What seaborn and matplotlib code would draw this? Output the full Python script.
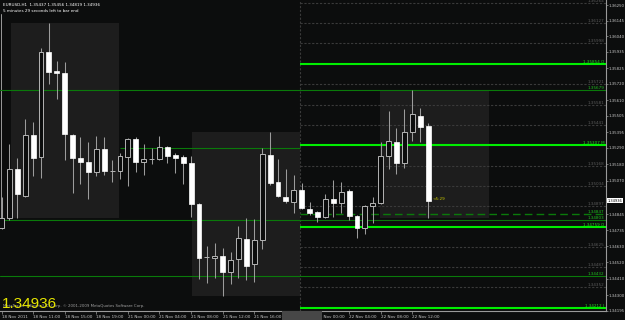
import numpy as np
import pandas as pd
import matplotlib
matplotlib.use("Agg")
import matplotlib.pyplot as plt
from matplotlib.patches import Rectangle
import seaborn as sns

# ---------------- data ----------------
header_text = "EURUSD,H1  1.35437 1.35456 1.34819 1.34936"
timer_text = "5 minutes 29 seconds left to bar end"
bid_price = 1.34936

opens = [1.34752, 1.34819, 1.35148, 1.34967, 1.35377, 1.35229, 1.35935, 1.35807, 1.35793, 1.35377,
         1.35222, 1.35195, 1.35128, 1.35283, 1.35135, 1.35135, 1.35229, 1.35350, 1.35195, 1.35216,
         1.35216, 1.35296, 1.35242, 1.35229, 1.35189, 1.34913, 1.34557, 1.34550, 1.34564, 1.34456,
         1.34544, 1.34678, 1.34510, 1.34671, 1.35242, 1.35061, 1.34960, 1.34927, 1.35007, 1.34880,
         1.34860, 1.34826, 1.34947, 1.34920, 1.35000, 1.34832, 1.34752, 1.34900, 1.34920, 1.35236,
         1.35330, 1.35189, 1.35397, 1.35504, 1.35437]
highs = [1.34960, 1.35316, 1.35222, 1.35484, 1.35464, 1.35961, 1.36129, 1.35874, 1.35867, 1.35384,
         1.35363, 1.35330, 1.35370, 1.35363, 1.35209, 1.35256, 1.35357, 1.35363, 1.35316, 1.35289,
         1.35370, 1.35300, 1.35256, 1.35242, 1.35236, 1.34918, 1.34631, 1.34651, 1.34617, 1.34591,
         1.34765, 1.34819, 1.34812, 1.35289, 1.35397, 1.35216, 1.35148, 1.35108, 1.35054, 1.34927,
         1.34865, 1.34980, 1.35074, 1.35061, 1.35014, 1.34839, 1.34905, 1.34960, 1.35330, 1.35538,
         1.35424, 1.35552, 1.35679, 1.35558, 1.35456]
lows = [1.34745, 1.34806, 1.34819, 1.34960, 1.35101, 1.35088, 1.35720, 1.35619, 1.35209, 1.34987,
        1.35047, 1.34947, 1.35101, 1.35108, 1.35061, 1.35081, 1.35034, 1.35128, 1.35108, 1.35182,
        1.35209, 1.35189, 1.35121, 1.35047, 1.34826, 1.34409, 1.34382, 1.34416, 1.34295, 1.34376,
        1.34416, 1.34402, 1.34389, 1.34611, 1.35041, 1.34960, 1.34920, 1.34853, 1.34880, 1.34839,
        1.34792, 1.34819, 1.34826, 1.34853, 1.34806, 1.34685, 1.34712, 1.34785, 1.34913, 1.35148,
        1.35115, 1.35155, 1.35336, 1.35330, 1.34819]
closes = [1.34819, 1.35148, 1.34980, 1.35377, 1.35222, 1.35935, 1.35800, 1.35793, 1.35384, 1.35222,
          1.35195, 1.35128, 1.35283, 1.35135, 1.35135, 1.35236, 1.35350, 1.35195, 1.35216, 1.35216,
          1.35296, 1.35236, 1.35222, 1.35189, 1.34913, 1.34550, 1.34557, 1.34564, 1.34456, 1.34537,
          1.34685, 1.34496, 1.34671, 1.35249, 1.35054, 1.34967, 1.34933, 1.35007, 1.34886, 1.34853,
          1.34826, 1.34947, 1.34920, 1.34994, 1.34832, 1.34752, 1.34900, 1.34920, 1.35236, 1.35336,
          1.35189, 1.35397, 1.35518, 1.35431, 1.34936]

time_labels = ["18 Nov 2011", "18 Nov 11:00", "18 Nov 15:00", "18 Nov 19:00", "21 Nov 00:00",
               "21 Nov 04:00", "21 Nov 08:00", "21 Nov 12:00", "21 Nov 16:00", "21 Nov 20:00",
               "22 Nov 00:00", "22 Nov 04:00", "22 Nov 08:00", "22 Nov 12:00"]
time_label_bars = [0, 4, 8, 12, 16, 20, 24, 28, 32, 36, 40, 44, 48, 52]

price_ticks = [1.36250, 1.36145, 1.36040, 1.35935, 1.35825, 1.35720, 1.35610, 1.35505, 1.35395,
               1.35290, 1.35180, 1.35070, 1.34845, 1.34735, 1.34630, 1.34520, 1.34410, 1.34300,
               1.34195]

# session high/low boxes
session_start = [1.2, 24.1, 47.9]
session_end = [14.9, 37.8, 61.7]
session_high = [1.36129, 1.35397, 1.35679]
session_low = [1.34819, 1.34295, 1.34819]

# levels drawn from the day separator to the right
bright_levels = [1.35854, 1.35307, 1.34759, 1.34212]
bright_labels = ["1.35854 O", "1.35307 M", "1.34759 O", "1.34212 I"]
grey_levels = [1.36264, 1.36127, 1.35998, 1.35721, 1.35581, 1.35441, 1.35168, 1.35034,
               1.34897, 1.34625, 1.34487, 1.34352]
dashed_level = 1.34847
# full width dark green lines
dark_levels = [1.35679, 1.34803, 1.34432]
partial_level = 1.35291
day_separator = 37.8

# ---------------- style ----------------
BG = "#0c0d0d"
sns.set_theme(style="dark", rc={"axes.facecolor": BG, "figure.facecolor": BG,
                                "axes.grid": False, "axes.edgecolor": "#9a9a9a",
                                "xtick.color": "#9a9a9a", "ytick.color": "#9a9a9a",
                                "text.color": "#d0d0d0"})
plt.rcParams["font.family"] = ["DejaVu Sans"]

W, H = 625, 320
fig = plt.figure(figsize=(W / 100, H / 100), dpi=100)
ax = fig.add_axes([0, 9 / H, 606 / W, 311 / H])

df = pd.DataFrame({"bar": np.arange(len(opens)), "open": opens, "high": highs,
                   "low": lows, "close": closes})
df["body_lo"] = df[["open", "close"]].min(axis=1)
df["body"] = (df["open"] - df["close"]).abs()
bull = df[df["close"] >= df["open"]].reset_index(drop=True)
bear = df[df["close"] < df["open"]].reset_index(drop=True)

xmin, xmax = -0.19, 76.52

# session boxes
for x0, x1, hi, lo in zip(session_start, session_end, session_high, session_low):
    ax.add_patch(Rectangle((x0, lo), x1 - x0, hi - lo, facecolor="#1d1d1d",
                           edgecolor="none", zorder=0.5))

# grey level lines (right part)
for lv in grey_levels:
    ax.hlines(lv, day_separator, xmax, colors="#3a3a3a", linewidth=0.8,
              linestyles=(0, (2, 1.5)), zorder=1)
    ax.text(0.997, lv, f"{lv:.5f}", transform=ax.get_yaxis_transform(), ha="right",
            va="bottom", fontsize=3, color="#5a5a5a", zorder=3)

ax.axvline(day_separator, color="#3a3a3a", linewidth=0.8, linestyle=(0, (2, 1.5)), zorder=1)
ax.axvline(-0.06, ymin=0.27, ymax=0.955, color="#9a9a9a", linewidth=0.7, zorder=1)

for lv in dark_levels:
    ax.axhline(lv, color="#0a7a0a", linewidth=0.8, zorder=1.2)
    ax.text(0.997, lv, f"{lv:.5f}", transform=ax.get_yaxis_transform(), ha="right",
            va="bottom", fontsize=3, color="#1fbf1f", zorder=3)
ax.hlines(partial_level, 15.0, day_separator, colors="#0a7a0a", linewidth=0.8, zorder=1.2)
ax.hlines(dashed_level, day_separator, xmax, colors="#0a7a0a", linewidth=1.0,
          linestyles=(0, (5.5, 3)), zorder=1.2)
ax.text(0.997, dashed_level, f"{dashed_level:.5f}", transform=ax.get_yaxis_transform(),
        ha="right", va="bottom", fontsize=3, color="#1fbf1f", zorder=3)
for lv, lab in zip(bright_levels, bright_labels):
    ax.hlines(lv, day_separator, xmax, colors="#00ee00", linewidth=1.5, zorder=1.3)
    ax.text(0.997, lv, lab, transform=ax.get_yaxis_transform(), ha="right",
            va="bottom", fontsize=3, color="#22dd22", zorder=3)

# wicks
ax.vlines(df["bar"], df["low"], df["high"], colors="#9c9c9c", linewidth=0.75, zorder=1.5)

# candle bodies with seaborn
sns.barplot(data=bear, x="bar", y="body", native_scale=True, orient="x", width=0.63,
            errorbar=None, color="white", edgecolor="white", linewidth=0.5,
            bottom=bear["body_lo"].to_numpy(), zorder=2, ax=ax)
sns.barplot(data=bull, x="bar", y="body", native_scale=True, orient="x", width=0.63,
            errorbar=None, color=BG, edgecolor="#b4b4b4", linewidth=0.7,
            bottom=bull["body_lo"].to_numpy(), zorder=2, ax=ax)

# timer next to last bar
ax.text(len(opens) - 1 + 0.6, bid_price, "<5:29", fontsize=3, color="#c8c800",
        va="bottom", ha="left", zorder=4)

ax.set_xlim(xmin, xmax)
ax.set_ylim(1.34194, 1.36284)
ax.set_xlabel("")
ax.set_ylabel("")

for s in ["top", "left"]:
    ax.spines[s].set_visible(False)
ax.spines["right"].set_color("#9a9a9a")
ax.spines["bottom"].set_color("#9a9a9a")
ax.spines["right"].set_linewidth(0.8)
ax.spines["bottom"].set_linewidth(0.8)

ax.yaxis.tick_right()
ax.set_yticks(price_ticks)
ax.set_yticklabels([f"{p:.5f}" for p in price_ticks])
ax.tick_params(axis="y", which="both", direction="out", length=1.5, width=0.5, pad=0.4,
               labelsize=2.75, labelcolor="#c8c8c8", right=True, left=False)
ax.set_xticks(time_label_bars)
ax.set_xticklabels(time_labels, ha="left")
ax.tick_params(axis="x", which="both", direction="out", length=2, width=0.5, pad=0.8,
               labelsize=3, labelcolor="#c8c8c8", bottom=True)

# current price marker on the price scale
ax.text(1.0025, bid_price, f"{bid_price:.5f}", transform=ax.get_yaxis_transform(),
        ha="left", va="center", fontsize=2.6, color="black", zorder=5, clip_on=False,
        bbox=dict(boxstyle="square,pad=0.15", facecolor="white", edgecolor="none"))

# header text
fig.text(3 / W, 1 - 5.5 / H, header_text, fontsize=3, color="white", va="center", ha="left")
fig.text(3 / W, 1 - 10.5 / H, timer_text, fontsize=3, color="white", va="center", ha="left")

# footer
fig.text(3 / W, 1 - 306 / H, "MetaTrader - Alpari (UK) Corp. \u00a9 2001-2009 MetaQuotes Software Corp.",
         fontsize=2.8, color="#a0a0a0", va="center", ha="left", zorder=3)
fig.text(2 / W, 1 - 307.5 / H, f"{bid_price:.5f}", fontsize=11, color="#e6e600",
         family=["Liberation Sans", "DejaVu Sans"], va="baseline", ha="left", zorder=4)

# date box of the separator on the time scale
fig.patches.append(Rectangle((282 / W, 0), 40 / W, 9 / H, transform=fig.transFigure,
                             facecolor="#474747", edgecolor="none", zorder=5))

fig.savefig("out.png", dpi=100, facecolor=BG)
